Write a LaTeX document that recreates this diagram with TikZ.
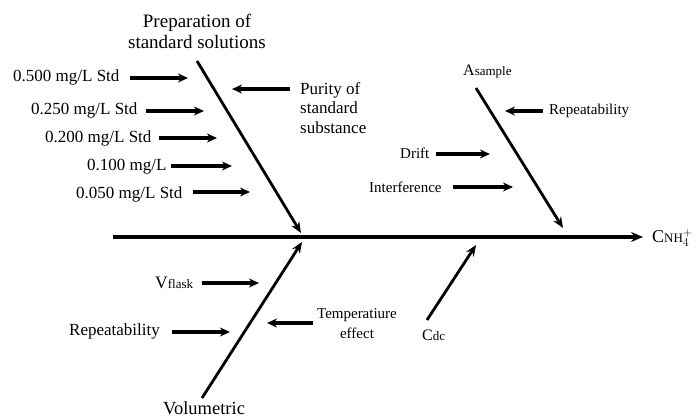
\documentclass[tikz,border=0pt]{standalone}
\usepackage{fontspec}
\setmainfont{Liberation Serif}
\usetikzlibrary{arrows.meta}
\begin{document}
\begin{tikzpicture}[x=1pt,y=-1pt,
 lbl/.style={inner sep=0pt, font=\fontsize{17}{19.5}\selectfont, align=left},
 big/.style={inner sep=0pt, font=\fontsize{19}{21}\selectfont, align=center},
 slbl/.style={inner sep=0pt, font=\fontsize{15}{20}\selectfont, align=center},
 sub/.style={line width=3.2pt, -{Stealth[length=10pt,width=9pt]}},
 bone/.style={line width=2.8pt, -{Stealth[length=11pt,width=9pt]}},
 spine/.style={line width=3.2pt, -{Stealth[length=12pt,width=10pt]}}]
\useasboundingbox (0,0) rectangle (696,417);
\newcommand{\smallsub}[1]{{\fontsize{13}{15}\selectfont #1}}

% spine
\coordinate (sp0) at (113,237);
\coordinate (sp1) at (643,237);
\draw[spine] (sp0) -- (sp1);
\node[inner sep=0pt, anchor=west, font=\fontsize{18}{20}\selectfont] (eff) at (652,238)
  {C\smallsub{NH}$^{+}_{4}$};

% upper left bone
\node[big] (prep) at (197,31) {Preparation of\\standard solutions};
\coordinate (b1s) at (197,61);
\coordinate (b1e) at (301,233);
\draw[bone] (b1s) -- (b1e);

\node[lbl, anchor=west] (s1) at (13,77) {0.500 mg/L Std};
\coordinate (s1a) at (130,78); \coordinate (s1b) at (188,78);
\draw[sub] (s1a) -- (s1b);
\node[lbl, anchor=west] (s2) at (31,110) {0.250 mg/L Std};
\coordinate (s2a) at (146,111); \coordinate (s2b) at (204,111);
\draw[sub] (s2a) -- (s2b);
\node[lbl, anchor=west] (s3) at (45,138) {0.200 mg/L Std};
\coordinate (s3a) at (159,138); \coordinate (s3b) at (217,138);
\draw[sub] (s3a) -- (s3b);
\node[lbl, anchor=west] (s4) at (87,167) {0.100 mg/L};
\coordinate (s4a) at (171,166); \coordinate (s4b) at (232,166);
\draw[sub] (s4a) -- (s4b);
\node[lbl, anchor=west] (s5) at (76,194) {0.050 mg/L Std};
\coordinate (s5a) at (193,192); \coordinate (s5b) at (250,192);
\draw[sub] (s5a) -- (s5b);

\node[lbl, anchor=west] (pur) at (300,108) {Purity of\\standard\\substance};
\coordinate (pua) at (290,89); \coordinate (pub) at (232,89);
\draw[sub] (pua) -- (pub);

% upper right bone
\node[inner sep=0pt, anchor=west, font=\fontsize{16}{18}\selectfont] (asam) at (463,72)
  {A\smallsub{sample}};
\coordinate (b2s) at (476,88);
\coordinate (b2e) at (563,228);
\draw[bone] (b2s) -- (b2e);

\node[slbl, anchor=west] (rep1) at (549,111) {Repeatability};
\coordinate (r1a) at (543,111); \coordinate (r1b) at (505,111);
\draw[sub] (r1a) -- (r1b);
\node[slbl, anchor=west] (drift) at (400,153) {Drift};
\coordinate (dra) at (436,154); \coordinate (drb) at (490,154);
\draw[sub] (dra) -- (drb);
\node[slbl, anchor=west] (intf) at (369,187) {Interference};
\coordinate (ina) at (453,187); \coordinate (inb) at (513,187);
\draw[sub] (ina) -- (inb);

% lower left bone
\node[inner sep=0pt, font=\fontsize{18.5}{20}\selectfont] (vol) at (204,408) {Volumetric};
\coordinate (b3s) at (202,398);
\coordinate (b3e) at (302,242);
\draw[bone] (b3s) -- (b3e);

\node[inner sep=0pt, anchor=west, font=\fontsize{17.5}{20}\selectfont] (vfl) at (155,283)
  {V\smallsub{flask}};
\coordinate (va) at (202,283); \coordinate (vb) at (259,283);
\draw[sub] (va) -- (vb);
\node[lbl, anchor=west] (rep2) at (69,331) {Repeatability};
\coordinate (r2a) at (172,332); \coordinate (r2b) at (230,332);
\draw[sub] (r2a) -- (r2b);
\node[slbl] (temp) at (357,324) {Temperatiure\\effect};
\coordinate (ta) at (313,323); \coordinate (tb) at (267,323);
\draw[sub] (ta) -- (tb);

% lower right bone
\node[inner sep=0pt, anchor=west, font=\fontsize{16}{18}\selectfont] (cdc) at (422,335)
  {C\smallsub{dc}};
\coordinate (b4s) at (427,320);
\coordinate (b4e) at (476,245);
\draw[bone] (b4s) -- (b4e);
\end{tikzpicture}
\end{document}
